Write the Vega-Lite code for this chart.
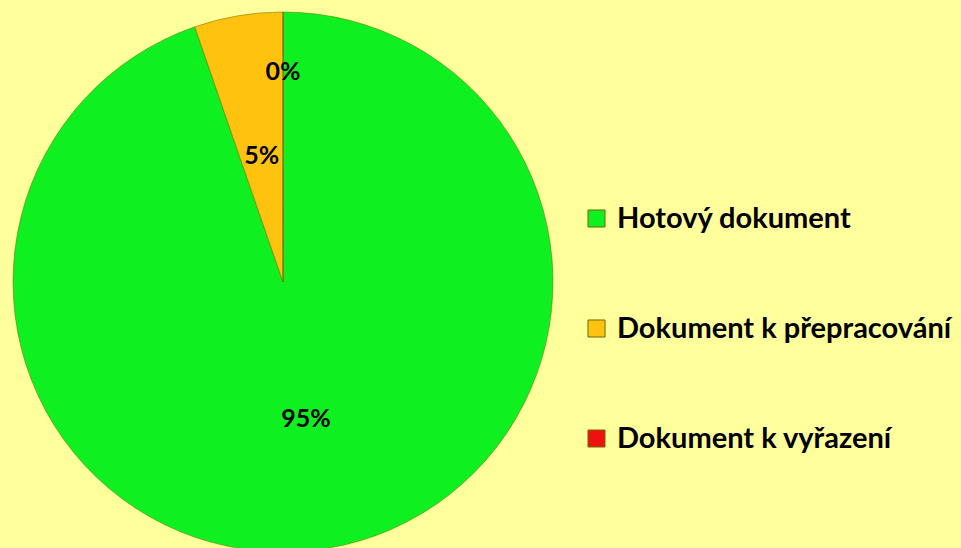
{
  "$schema": "https://vega.github.io/schema/vega-lite/v6.json",
  "width": 566,
  "height": 564,
  "autosize": "none",
  "padding": {"left": 0, "top": 0, "right": 395, "bottom": 0},
  "background": "#FFFF9C",
  "data": {
    "values": [
      {"kategorie": "Hotový dokument", "podil": 94.7, "popisek": "95%"},
      {"kategorie": "Dokument k přepracování", "podil": 5.3, "popisek": "5%"},
      {"kategorie": "Dokument k vyřazení", "podil": 0, "popisek": "0%"}
    ]
  },
  "encoding": {
    "theta": {"field": "podil", "type": "quantitative", "stack": true},
    "order": {"field": "podil", "sort": "descending"}
  },
  "layer": [
    {
      "mark": {"type": "arc", "outerRadius": 270, "stroke": "#6b6b00", "strokeWidth": 1, "strokeOpacity": 0.5},
      "encoding": {
        "color": {
          "field": "kategorie",
          "type": "nominal",
          "scale": {
            "domain": ["Hotový dokument", "Dokument k přepracování", "Dokument k vyřazení"],
            "range": ["#0EF020", "#FFC20E", "#F01010"]
          },
          "legend": {
            "title": null,
            "orient": "none",
            "legendX": 582,
            "legendY": 204,
            "symbolType": "square",
            "symbolSize": 290,
            "symbolStrokeWidth": 1,
            "labelFont": "Lato",
            "labelFontWeight": "bold",
            "labelFontSize": 29,
            "labelColor": "#000000",
            "labelOffset": 6,
            "labelLimit": 400,
            "rowPadding": 80
          }
        }
      }
    },
    {
      "mark": {"type": "text", "radius": 139, "font": "Lato", "fontWeight": "bold", "fontSize": 25, "color": "#000000"},
      "encoding": {"text": {"condition": {"test": "datum.podil > 50", "field": "popisek"}, "value": ""}}
    },
    {
      "mark": {"type": "text", "radius": 128, "font": "Lato", "fontWeight": "bold", "fontSize": 25, "color": "#000000"},
      "encoding": {"text": {"condition": {"test": "datum.podil > 0 && datum.podil <= 50", "field": "popisek"}, "value": ""}}
    },
    {
      "mark": {"type": "text", "radius": 210, "font": "Lato", "fontWeight": "bold", "fontSize": 25, "color": "#000000"},
      "encoding": {"text": {"condition": {"test": "datum.podil == 0", "field": "popisek"}, "value": ""}}
    }
  ]
}
